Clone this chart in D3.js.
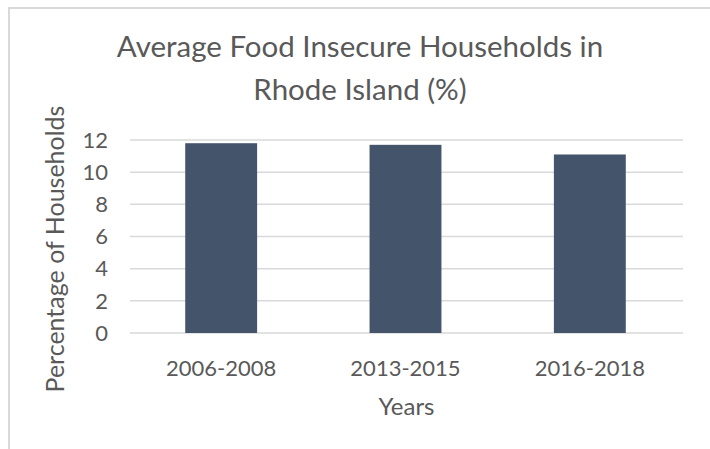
<!DOCTYPE html>
<html>
<head>
<meta charset="utf-8">
<script src="https://cdnjs.cloudflare.com/ajax/libs/d3/7.8.5/d3.min.js"></script>
<style>
  body { margin: 0; background: #fff; }
  svg { display: block; }
  text { font-family: Lato, "Open Sans", sans-serif; fill: #595959; }
</style>
</head>
<body>
<svg width="710" height="449"></svg>
<script>
// data
var categories = ["2006-2008", "2013-2015", "2016-2018"];
var values = [11.8, 11.7, 11.1];
var yTicks = [0, 2, 4, 6, 8, 10, 12];
var titleLines = ["Average Food Insecure Households in", "Rhode Island (%)"];

var svg = d3.select("svg"),
    width = +svg.attr("width"),
    height = +svg.attr("height");

var margin = {left: 130, right: 27, top: 140, bottom: 116};

// outer frame (cropped chart border)
svg.append("path")
  .attr("d", "M9," + height + "V8H" + width)
  .style("fill", "none")
  .style("stroke", "#d9d9d9")
  .style("stroke-width", 2);

var x = d3.scaleBand()
  .domain(categories)
  .range([margin.left, width - margin.right]);

var y = d3.scaleLinear()
  .domain([0, 12])
  .range([height - margin.bottom, margin.top]);

// gridlines
svg.append("g").selectAll("line")
    .data(yTicks)
  .enter().append("line")
    .attr("x1", margin.left)
    .attr("x2", width - margin.right)
    .attr("y1", d => y(d))
    .attr("y2", d => y(d))
    .style("stroke", "#d9d9d9")
    .style("stroke-width", 1.5);

// y tick labels
svg.append("g").selectAll("text")
    .data(yTicks)
  .enter().append("text")
    .attr("x", 108)
    .attr("y", d => y(d))
    .attr("dy", "0.35em")
    .attr("text-anchor", "end")
    .style("font-size", "22px")
    .text(d => d);

// bars
var barW = x.bandwidth() * 0.39;
svg.append("g").selectAll("rect")
    .data(values)
  .enter().append("rect")
    .attr("x", (d, i) => x(categories[i]) + x.bandwidth() / 2 - barW / 2 - 1)
    .attr("width", barW)
    .attr("y", d => y(d))
    .attr("height", d => y(0) - y(d))
    .style("fill", "#44546a");

// x labels
svg.append("g").selectAll("text")
    .data(categories)
  .enter().append("text")
    .attr("x", d => x(d) + x.bandwidth() / 2 - 1)
    .attr("y", 376)
    .attr("text-anchor", "middle")
    .style("font-size", "22px")
    .text(d => d);

// axis titles
svg.append("text")
  .attr("x", (margin.left + width - margin.right) / 2)
  .attr("y", 415)
  .attr("text-anchor", "middle")
  .style("font-size", "24px")
  .text("Years");

svg.append("text")
  .attr("transform", "translate(64,249) rotate(-90)")
  .attr("text-anchor", "middle")
  .style("font-size", "25px")
  .text("Percentage of Households");

// chart title
svg.append("g").selectAll("text")
    .data(titleLines)
  .enter().append("text")
    .attr("x", 360)
    .attr("y", (d, i) => 57 + i * 43)
    .attr("text-anchor", "middle")
    .style("font-size", "29.5px")
    .text(d => d);
</script>
</body>
</html>
